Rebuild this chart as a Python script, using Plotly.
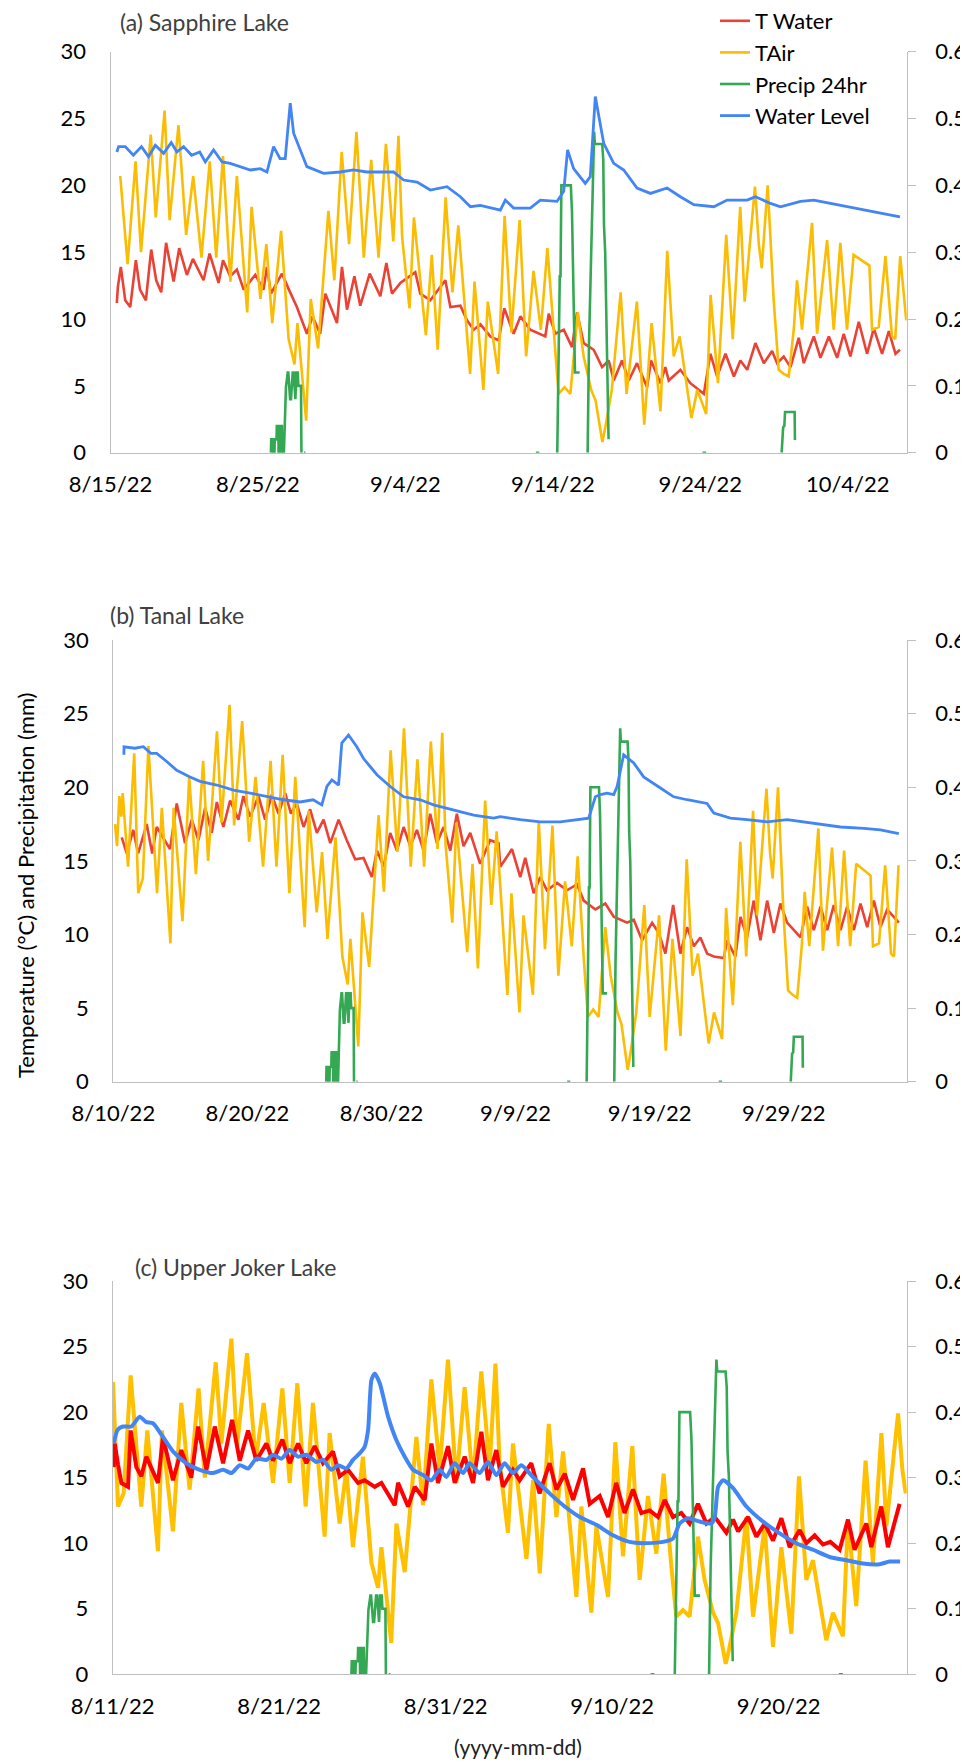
import pandas as pd
import plotly.graph_objects as go

# page is 968 x 1763; the html body adds an 8 px margin, so the figure itself is 960 x 1755
PAGE_MARGIN = 8
W, H = 968 - PAGE_MARGIN, 1763 - PAGE_MARGIN

# ---------------- shared weather-station data (days since 2022-08-11 00:00) -------------
WEATHER_BASE = "2022-08-11"
TAIR = [(-0.87, 17.5), (-0.72, 16.0), (-0.55, 19.4), (-0.40, 18.0), (-0.30, 19.6), (0.10, 14.6),
        (0.56, 22.3), (0.86, 12.8), (1.20, 13.8), (1.62, 22.8), (2.26, 12.8), (2.50, 16.6),
        (2.62, 18.6), (3.26, 9.4), (3.50, 18.6), (4.16, 10.9), (4.66, 20.7), (5.16, 14.1),
        (5.70, 21.8), (6.07, 15.0), (6.73, 23.8), (7.07, 17.6), (7.67, 25.6), (8.01, 17.4),
        (8.61, 24.5), (9.13, 16.3), (9.61, 20.7), (10.17, 14.6), (10.73, 21.8), (11.17, 14.6),
        (11.63, 22.2), (12.13, 12.8), (12.57, 20.7), (13.27, 10.5), (13.57, 18.4), (14.17, 11.5),
        (14.57, 15.6), (14.97, 9.7), (15.57, 16.6), (16.08, 8.5), (16.48, 6.6), (16.68, 9.7),
        (17.27, 2.4), (17.58, 11.5), (18.08, 7.8), (18.78, 18.1), (19.18, 12.9), (19.68, 22.5),
        (20.18, 15.6), (20.68, 24.0), (21.18, 14.6), (21.68, 21.9), (22.18, 14.6), (22.68, 23.1),
        (23.18, 15.8), (23.53, 23.7), (23.78, 16.1), (24.28, 10.8), (24.58, 17.6), (25.39, 8.8),
        (25.79, 14.8), (26.19, 7.7), (26.73, 19.1), (27.19, 12.0), (27.59, 17.0), (28.39, 5.9),
        (28.69, 12.8), (29.29, 4.7), (29.59, 11.3), (30.29, 5.9), (30.73, 17.7), (31.19, 9.0),
        (31.75, 17.4), (32.19, 7.2), (32.69, 13.6), (33.19, 9.2), (33.63, 15.3), (34.09, 8.3),
        (34.39, 4.4), (34.79, 4.9), (35.19, 4.4), (35.69, 10.5), (36.09, 7.2), (36.60, 4.7),
        (36.90, 3.9), (37.36, 0.8), (37.56, 1.9), (38.00, 4.7), (38.60, 12.0), (39.00, 4.4),
        (39.70, 11.3), (40.20, 2.1), (40.70, 9.7), (41.30, 3.1), (41.76, 15.1), (42.20, 7.2),
        (42.60, 8.7), (43.40, 2.6), (43.80, 4.7), (44.40, 2.9), (44.70, 11.8), (45.20, 5.2),
        (45.76, 16.3), (46.20, 8.5), (46.71, 18.4), (47.01, 11.3), (47.71, 19.9), (47.97, 15.6),
        (48.17, 13.8), (48.57, 20.0), (48.98, 11.4), (49.32, 6.2), (49.66, 5.9), (50.00, 5.7),
        (50.34, 9.2), (50.56, 12.9), (50.90, 9.2), (51.58, 17.2), (51.92, 8.9), (52.60, 15.9),
        (53.05, 9.2), (53.50, 15.7), (53.95, 9.2), (54.40, 14.8), (55.47, 14.0), (55.65, 9.2),
        (56.10, 9.4), (56.56, 14.7), (57.00, 8.7), (57.22, 8.5), (57.56, 14.7), (57.97, 9.9)]

# 24-hour precipitation, recorded in separate runs (blank between runs)
PRECIP_RUNS = [
    [(14.88, 0), (14.90, 1), (15.00, 1), (15.02, 0), (15.12, 0), (15.14, 1), (15.26, 1), (15.28, 2),
     (15.38, 2), (15.40, 0), (15.50, 0), (15.52, 2), (15.62, 2), (15.64, 0), (15.76, 0), (15.86, 4.9),
     (15.90, 4.9), (16.02, 6), (16.06, 6), (16.18, 4), (16.24, 4), (16.36, 6), (16.42, 6), (16.54, 4),
     (16.60, 6), (16.70, 6), (16.74, 5), (16.92, 5), (16.95, 0)],
    [(17.12, 0), (17.22, 0)],
    [(32.85, 0), (33.08, 0)],
    [(34.30, 0), (34.37, 5.5), (34.42, 11.9), (34.47, 13.2), (34.52, 13.2), (34.58, 20.0),
     (35.22, 20.0), (35.30, 18.0), (35.50, 6.0), (35.82, 6.0)],
    [(36.36, 0), (36.45, 8.0), (36.80, 24.0), (36.85, 23.1), (37.35, 23.1), (37.42, 21.9),
     (37.47, 17.0), (37.55, 15.0), (37.78, 1.0)],
    [(44.15, 0), (44.40, 0)],
    [(49.52, 0), (49.62, 1.9), (49.70, 2.0), (49.75, 3.05), (50.40, 3.05), (50.42, 0.95)],
]

# ---------------- (a) Sapphire Lake: days since 2022-08-15 ----------------
A_START, A_END = "2022-08-15", "2022-10-08"
A_TWATER = [(0.43, 11.2), (0.50, 12.4), (0.70, 13.9), (1.00, 11.4), (1.34, 10.9), (1.72, 14.4),
            (2.00, 12.2), (2.40, 11.4), (2.76, 15.2), (3.10, 12.9), (3.44, 12.0), (3.77, 15.7),
            (4.28, 12.8), (4.66, 15.3), (5.18, 13.3), (5.59, 14.5), (6.31, 12.9), (6.72, 14.9),
            (7.33, 12.7), (7.63, 14.4), (8.12, 13.2), (8.57, 13.7), (9.03, 12.2), (9.82, 13.3),
            (10.38, 12.2), (10.61, 13.9), (10.88, 11.9), (11.63, 13.4), (12.10, 12.2), (12.64, 10.9),
            (13.32, 8.9), (13.70, 10.2), (14.22, 8.9), (14.57, 11.9), (15.36, 9.7), (15.70, 13.9),
            (16.04, 10.7), (16.54, 13.2), (16.94, 11.0), (17.58, 13.4), (18.30, 11.7), (18.71, 14.2),
            (19.09, 11.9), (19.66, 12.7), (20.67, 13.5), (21.01, 11.9), (21.69, 11.4), (22.71, 12.9),
            (23.05, 10.9), (23.73, 11.0), (24.18, 9.9), (24.63, 9.2), (25.09, 9.6), (25.76, 8.7),
            (26.33, 8.4), (26.71, 10.8), (27.34, 8.9), (27.80, 10.2), (28.47, 9.2), (29.04, 8.9),
            (29.49, 8.7), (29.72, 10.4), (30.17, 8.9), (30.74, 9.2), (31.30, 7.9), (31.64, 10.5),
            (32.09, 8.2), (32.77, 7.7), (33.34, 6.4), (33.79, 6.9), (34.13, 5.4), (34.69, 6.9),
            (35.15, 5.4), (35.71, 6.7), (36.39, 4.9), (36.66, 6.9), (37.30, 5.2), (37.63, 6.4),
            (37.86, 5.4), (38.65, 6.2), (39.33, 5.2), (40.24, 4.4), (40.69, 7.4), (41.14, 5.7),
            (41.71, 7.4), (42.28, 5.7), (42.72, 6.9), (43.18, 6.2), (43.74, 8.2), (44.31, 6.7),
            (44.87, 7.6), (45.21, 6.7), (45.66, 7.2), (46.12, 6.4), (46.68, 8.6), (47.02, 6.7),
            (47.70, 8.7), (48.15, 7.1), (48.72, 8.7), (49.28, 7.1), (49.73, 8.9), (50.18, 7.2),
            (50.75, 9.8), (51.31, 7.4), (51.77, 9.3), (52.33, 7.4), (52.79, 9.1), (53.24, 7.4),
            (53.54, 7.7)]
A_LEVEL = [(0.43, 0.450), (0.55, 0.458), (1.00, 0.458), (1.55, 0.445), (2.10, 0.458), (2.58, 0.443),
           (3.04, 0.460), (3.60, 0.448), (4.12, 0.464), (4.50, 0.450), (4.96, 0.458), (5.50, 0.445),
           (6.05, 0.450), (6.43, 0.435), (6.99, 0.453), (7.57, 0.435), (8.12, 0.433), (8.80, 0.428),
           (9.48, 0.423), (10.16, 0.425), (10.61, 0.420), (11.06, 0.458), (11.50, 0.440), (11.85, 0.440),
           (12.19, 0.523), (12.42, 0.478), (12.76, 0.458), (13.32, 0.428), (14.45, 0.418), (15.58, 0.420),
           (16.49, 0.423), (17.39, 0.420), (19.20, 0.420), (19.88, 0.408), (20.79, 0.405), (21.69, 0.393),
           (22.82, 0.398), (23.73, 0.383), (24.41, 0.368), (25.08, 0.370), (26.44, 0.363), (26.78, 0.378),
           (27.34, 0.366), (28.47, 0.366), (29.15, 0.378), (30.28, 0.376), (30.74, 0.391), (31.00, 0.453),
           (31.41, 0.425), (32.20, 0.403), (32.54, 0.413), (32.88, 0.533), (33.45, 0.463), (34.13, 0.433),
           (34.81, 0.423), (35.71, 0.396), (36.62, 0.388), (37.75, 0.396), (38.65, 0.383), (39.56, 0.371),
           (40.92, 0.368), (41.82, 0.378), (43.18, 0.378), (43.74, 0.383), (44.76, 0.373), (45.44, 0.368),
           (46.80, 0.376), (47.70, 0.378), (48.83, 0.373), (49.96, 0.368), (51.09, 0.363), (52.22, 0.358),
           (53.54, 0.353)]

# ---------------- (b) Tanal Lake: days since 2022-08-10 ----------------
B_START, B_END = "2022-08-10", "2022-10-08 04:00"
B_TWATER = [(0.63, 16.6), (1.00, 15.5), (1.49, 17.1), (1.85, 15.5), (2.49, 17.5), (2.90, 15.5),
            (3.24, 17.3), (4.23, 15.8), (4.73, 18.9), (5.35, 16.2), (5.85, 17.8), (6.35, 16.4),
            (6.85, 18.6), (7.34, 16.9), (7.72, 19.0), (8.21, 17.3), (8.71, 19.1), (9.33, 17.8),
            (9.70, 19.4), (10.20, 18.0), (10.83, 19.4), (11.32, 17.8), (11.82, 19.5), (12.32, 18.2),
            (12.82, 19.6), (13.25, 18.2), (13.68, 18.9), (14.19, 17.3), (14.68, 18.5), (15.18, 16.9),
            (15.68, 17.8), (16.18, 16.2), (16.80, 17.8), (17.41, 16.4), (18.04, 15.1), (18.66, 15.2),
            (19.28, 13.9), (19.66, 15.7), (20.16, 14.6), (20.65, 16.9), (21.15, 15.7), (21.65, 17.3),
            (22.14, 16.0), (22.64, 17.1), (23.14, 15.7), (23.63, 18.2), (24.13, 16.2), (24.63, 17.3),
            (25.13, 15.7), (25.62, 18.2), (26.12, 16.0), (26.62, 16.9), (27.36, 14.8), (28.10, 16.4),
            (28.73, 16.2), (28.86, 14.6), (29.73, 15.8), (30.35, 13.9), (30.72, 15.2), (31.35, 12.8),
            (31.84, 13.9), (32.34, 13.0), (33.09, 13.5), (33.83, 13.0), (34.58, 13.4), (35.08, 12.3),
            (35.95, 11.7), (36.69, 12.1), (37.32, 11.2), (38.31, 10.8), (38.81, 11.0), (39.43, 9.6),
            (40.18, 10.8), (40.68, 10.1), (41.17, 8.7), (41.75, 12.0), (42.29, 8.7), (42.79, 10.5),
            (43.29, 9.2), (43.78, 9.8), (44.28, 8.7), (44.78, 8.5), (45.53, 8.4), (45.77, 9.6),
            (46.39, 8.5), (46.77, 11.2), (47.26, 9.8), (47.76, 12.3), (48.26, 9.6), (48.76, 12.3),
            (49.26, 10.1), (49.75, 12.1), (50.25, 10.8), (51.25, 9.8), (51.74, 11.9), (52.24, 10.3),
            (52.74, 11.9), (53.24, 10.3), (53.73, 12.0), (54.23, 10.3), (54.73, 11.9), (55.23, 10.3),
            (55.72, 12.1), (56.22, 10.5), (56.72, 12.3), (57.21, 10.5), (57.71, 11.7), (58.58, 10.8)]
B_LEVEL = [(0.79, 0.444), (0.80, 0.455), (1.60, 0.453), (2.24, 0.455), (2.80, 0.446), (3.24, 0.446),
           (3.98, 0.435), (4.73, 0.423), (5.72, 0.414), (6.47, 0.408), (7.72, 0.403), (8.96, 0.396),
           (10.20, 0.392), (11.45, 0.387), (12.69, 0.383), (13.93, 0.380), (14.90, 0.383), (15.55, 0.376),
           (15.93, 0.401), (16.30, 0.410), (16.80, 0.403), (17.04, 0.460), (17.54, 0.471), (18.16, 0.455),
           (18.66, 0.439), (19.66, 0.417), (20.65, 0.401), (21.65, 0.387), (22.89, 0.383), (23.88, 0.376),
           (24.88, 0.371), (25.87, 0.367), (26.87, 0.362), (28.36, 0.358), (28.86, 0.360), (30.35, 0.356),
           (31.84, 0.353), (33.33, 0.353), (34.83, 0.356), (35.45, 0.358), (35.95, 0.387), (36.32, 0.390),
           (36.82, 0.392), (37.32, 0.390), (37.57, 0.401), (38.06, 0.444), (38.81, 0.433), (39.55, 0.414),
           (40.80, 0.399), (41.79, 0.387), (42.79, 0.383), (44.28, 0.378), (44.78, 0.365), (46.02, 0.358),
           (47.26, 0.356), (48.76, 0.353), (50.25, 0.356), (52.24, 0.351), (54.23, 0.346), (55.97, 0.344),
           (57.21, 0.342), (58.58, 0.337)]

# ---------------- (c) Upper Joker Lake: days since 2022-08-11 ----------------
C_START, C_END = "2022-08-11", "2022-09-27 16:30"
C_TWATER = [(0.06, 15.8), (0.12, 17.6), (0.32, 16.0), (0.52, 14.6), (0.92, 14.3), (1.08, 18.6),
            (1.42, 15.8), (1.72, 15.1), (2.02, 16.6), (2.72, 14.6), (3.02, 18.1), (3.62, 14.8),
            (4.12, 17.1), (4.72, 15.0), (5.13, 18.9), (5.63, 15.6), (6.13, 18.9), (6.63, 16.1),
            (7.17, 19.4), (7.63, 16.3), (8.13, 18.6), (8.63, 16.3), (9.23, 17.6), (9.63, 16.3),
            (10.19, 17.9), (10.63, 16.1), (11.13, 17.6), (11.63, 16.1), (12.13, 17.4), (12.63, 16.1),
            (13.23, 17.0), (13.63, 15.1), (14.13, 15.6), (14.73, 14.6), (15.13, 14.8), (15.74, 14.3),
            (16.14, 14.6), (16.64, 13.6), (16.94, 12.9), (17.14, 14.6), (17.54, 13.3), (17.74, 12.8),
            (18.14, 14.3), (18.74, 13.3), (19.14, 17.6), (19.54, 14.6), (20.14, 17.4), (20.54, 14.6),
            (21.14, 16.6), (21.64, 14.6), (22.14, 18.5), (22.54, 14.8), (23.04, 17.1), (23.44, 14.3),
            (24.04, 15.6), (24.44, 14.8), (25.14, 16.1), (25.64, 13.8), (26.24, 16.1), (26.65, 14.1),
            (27.15, 15.3), (27.65, 13.3), (28.25, 15.7), (28.65, 13.0), (29.25, 13.6), (29.75, 12.0),
            (30.24, 14.6), (30.74, 12.3), (31.25, 14.1), (31.75, 12.3), (32.25, 12.5), (32.75, 12.0),
            (33.15, 13.3), (33.65, 12.0), (34.15, 12.3), (34.65, 11.5), (35.15, 13.0), (35.66, 11.5),
            (36.16, 12.0), (36.86, 10.8), (37.26, 11.8), (37.56, 10.9), (38.16, 12.0), (38.66, 10.5),
            (39.16, 11.5), (39.66, 10.2), (40.16, 11.9), (40.66, 9.7), (41.26, 11.0), (41.66, 10.0),
            (42.16, 10.6), (42.66, 9.9), (43.10, 10.1), (43.66, 9.5), (44.16, 11.8), (44.56, 9.5),
            (45.26, 11.5), (45.56, 9.7), (46.16, 12.8), (46.56, 9.7), (47.26, 13.0)]
C_LEVEL = [(0.06, 0.352), (0.30, 0.373), (0.62, 0.378), (1.12, 0.378), (1.62, 0.393), (2.00, 0.385),
           (2.42, 0.383), (3.02, 0.362), (3.62, 0.340), (4.42, 0.322), (5.23, 0.312), (6.03, 0.307),
           (6.63, 0.312), (7.13, 0.307), (7.63, 0.319), (8.13, 0.314), (8.63, 0.329), (9.23, 0.327),
           (9.63, 0.335), (10.13, 0.329), (10.63, 0.342), (11.13, 0.332), (11.63, 0.335), (12.23, 0.324),
           (12.63, 0.327), (13.13, 0.312), (13.53, 0.319), (14.03, 0.314), (14.43, 0.327), (14.83, 0.337),
           (15.13, 0.347), (15.34, 0.373), (15.54, 0.449), (15.74, 0.459), (16.04, 0.444), (16.54, 0.393),
           (17.04, 0.357), (17.54, 0.332), (18.04, 0.312), (18.64, 0.304), (19.14, 0.296), (19.64, 0.312),
           (20.04, 0.301), (20.54, 0.322), (21.04, 0.307), (21.44, 0.322), (22.04, 0.307), (22.54, 0.324),
           (23.04, 0.304), (23.54, 0.322), (24.04, 0.307), (24.54, 0.319), (25.24, 0.301), (26.24, 0.276),
           (27.15, 0.256), (28.05, 0.240), (29.05, 0.228), (30.05, 0.212), (31.05, 0.202), (31.85, 0.200),
           (33.05, 0.202), (33.65, 0.207), (34.05, 0.230), (34.55, 0.238), (35.25, 0.233), (35.96, 0.230),
           (36.16, 0.240), (36.36, 0.286), (36.66, 0.296), (37.26, 0.284), (38.06, 0.256), (39.06, 0.233),
           (40.06, 0.215), (41.06, 0.200), (42.06, 0.190), (43.06, 0.179), (44.06, 0.174), (45.06, 0.169),
           (46.06, 0.168), (46.66, 0.172), (47.29, 0.172)]

SERIES_NAMES = ["T Water", "TAir", "Precip 24hr", "Water Level"]

# boxes are page pixels: (left, right, top, bottom)
PANELS = [
    dict(title="(a) Sapphire Lake", start=A_START, end=A_END, tw=A_TWATER, wl=A_LEVEL,
         window=(4.3, 58.0), clock_h=0, box=(110.5, 906.7, 51.7, 452.7), title_xy=(118, 22),
         tw_color="#EA4335", air_color="#FBBC04", w=2.6, wl_w=2.8, smooth=False,
         order=["T Water", "TAir", "Precip 24hr", "Water Level"]),
    dict(title="(b) Tanal Lake", start=B_START, end=B_END, tw=B_TWATER, wl=B_LEVEL,
         window=(-0.9, 57.6), clock_h=0, box=(113.3, 906.7, 640.0, 1081.7), title_xy=(108, 615),
         tw_color="#EA4335", air_color="#FBBC04", w=2.6, wl_w=2.8, smooth=False,
         order=["T Water", "TAir", "Precip 24hr", "Water Level"]),
    dict(title="(c) Upper Joker Lake", start=C_START, end=C_END, tw=C_TWATER, wl=C_LEVEL,
         window=(0.5, 48.2), clock_h=-13, box=(112.7, 906.7, 1281.0, 1674.3), title_xy=(133, 1267),
         tw_color="#FF0000", air_color="#FFC000", w=4.0, wl_w=4.0, smooth=True,
         order=["TAir", "T Water", "Precip 24hr", "Water Level"]),
]

AXIS_COLOR = "#BFBFBF"
FONT = "Lato"


def px_x(px):
    return (px - PAGE_MARGIN) / W


def px_y(py):
    return 1 - (py - PAGE_MARGIN) / H


def stamp(start, day, hours=0.0):
    return pd.Timestamp(start) + pd.Timedelta(days=day) + pd.Timedelta(hours=hours)


fig = go.Figure()
layout = dict(width=W, height=H, margin=dict(l=0, r=0, t=0, b=0, autoexpand=False),
              paper_bgcolor="white", plot_bgcolor="white",
              font=dict(family=FONT, size=22, color="black"),
              showlegend=True,
              legend=dict(x=px_x(715), y=px_y(0), xanchor="left", yanchor="top",
                          bgcolor="rgba(0,0,0,0)", font=dict(family=FONT, size=22, color="black"),
                          tracegroupgap=0),
              annotations=[])

for i, p in enumerate(PANELS):
    xa = "x" if i == 0 else f"x{i + 1}"
    yl_n, yr_n = 2 * i + 1, 2 * i + 2
    yl = "y" if yl_n == 1 else f"y{yl_n}"
    yr = f"y{yr_n}"
    l, r, t, b = p["box"]
    lo, hi = p["window"]

    air = [q for q in TAIR if lo <= q[0] <= hi]
    air_x = [stamp(WEATHER_BASE, d, p["clock_h"]) for d, _ in air]
    air_y = [v for _, v in air]

    pr_x, pr_y = [], []
    for run in PRECIP_RUNS:
        pts = [q for q in run if lo <= q[0] <= hi]
        if not pts:
            continue
        for d, v in pts:
            pr_x.append(stamp(WEATHER_BASE, d, p["clock_h"]))
            pr_y.append(v)
        pr_x.append(pr_x[-1])
        pr_y.append(None)

    tw_x = [stamp(p["start"], d) for d, _ in p["tw"]]
    tw_y = [v for _, v in p["tw"]]
    wl_x = [stamp(p["start"], d) for d, _ in p["wl"]]
    wl_y = [v for _, v in p["wl"]]

    traces = {
        "T Water": go.Scatter(x=tw_x, y=tw_y, mode="lines", name="T Water",
                              line=dict(color=p["tw_color"], width=p["w"]), xaxis=xa, yaxis=yl),
        "TAir": go.Scatter(x=air_x, y=air_y, mode="lines", name="TAir",
                           line=dict(color=p["air_color"], width=p["w"]), xaxis=xa, yaxis=yl),
        "Precip 24hr": go.Scatter(x=pr_x, y=pr_y, mode="lines", name="Precip 24hr", connectgaps=False,
                                  line=dict(color="#34A853", width=2.6), xaxis=xa, yaxis=yl),
        "Water Level": go.Scatter(x=wl_x, y=wl_y, mode="lines", name="Water Level",
                                  line=dict(color="#4285F4", width=p["wl_w"],
                                            shape="spline" if p["smooth"] else "linear",
                                            smoothing=0.6),
                                  xaxis=xa, yaxis=yr),
    }
    for nm in p["order"]:
        tr = traces[nm]
        tr.showlegend = (i == 0)
        tr.legendrank = SERIES_NAMES.index(nm) + 1
        fig.add_trace(tr)

    xkey = "xaxis" if i == 0 else f"xaxis{i + 1}"
    ylkey = "yaxis" if yl_n == 1 else f"yaxis{yl_n}"
    yrkey = f"yaxis{yr_n}"
    layout[xkey] = dict(domain=[px_x(l), px_x(r)], anchor=yl, type="date", automargin=False,
                        range=[pd.Timestamp(p["start"]), pd.Timestamp(p["end"])],
                        tick0=pd.Timestamp(p["start"]), dtick=10 * 86400000,
                        tickformat="%-m/%-d/%y", showline=True, linecolor=AXIS_COLOR, linewidth=1.3,
                        showgrid=False, zeroline=False, ticks="", ticklabelstandoff=12,
                        tickfont=dict(family=FONT, size=22, color="black"))
    layout[ylkey] = dict(domain=[px_y(b), px_y(t)], anchor=xa, range=[0, 30], tick0=0, dtick=5,
                         automargin=False,
                         showline=True, linecolor=AXIS_COLOR, linewidth=1.3, showgrid=False,
                         zeroline=False, ticks="", ticklabelstandoff=19,
                         tickfont=dict(family=FONT, size=22, color="black"))
    layout[yrkey] = dict(overlaying=yl, side="right", anchor=xa, range=[0, 0.6], tick0=0, dtick=0.1,
                         automargin=False,
                         showline=True, linecolor=AXIS_COLOR, linewidth=1.3, showgrid=False,
                         zeroline=False, ticks="outside", ticklen=8, tickwidth=1.3,
                         tickcolor=AXIS_COLOR, ticklabelstandoff=15,
                         tickfont=dict(family=FONT, size=22, color="black"))
    tx, ty = p["title_xy"]
    layout["annotations"].append(dict(text=p["title"], x=px_x(tx), y=px_y(ty), xref="paper", yref="paper",
                                      xanchor="left", yanchor="middle", showarrow=False,
                                      font=dict(family=FONT, size=23, color="#404040")))

layout["annotations"].append(dict(text="Temperature (°C) and Precipitation (mm)", x=px_x(26), y=px_y(886),
                                  xref="paper", yref="paper", textangle=-90, showarrow=False,
                                  xanchor="center", yanchor="middle",
                                  font=dict(family=FONT, size=22, color="black")))
layout["annotations"].append(dict(text="(yyyy-mm-dd)", x=px_x(518), y=px_y(1746), xref="paper", yref="paper",
                                  showarrow=False, xanchor="center", yanchor="middle",
                                  font=dict(family=FONT, size=21, color="#202020")))

fig.update_layout(**layout)
fig.write_html("out.html")
